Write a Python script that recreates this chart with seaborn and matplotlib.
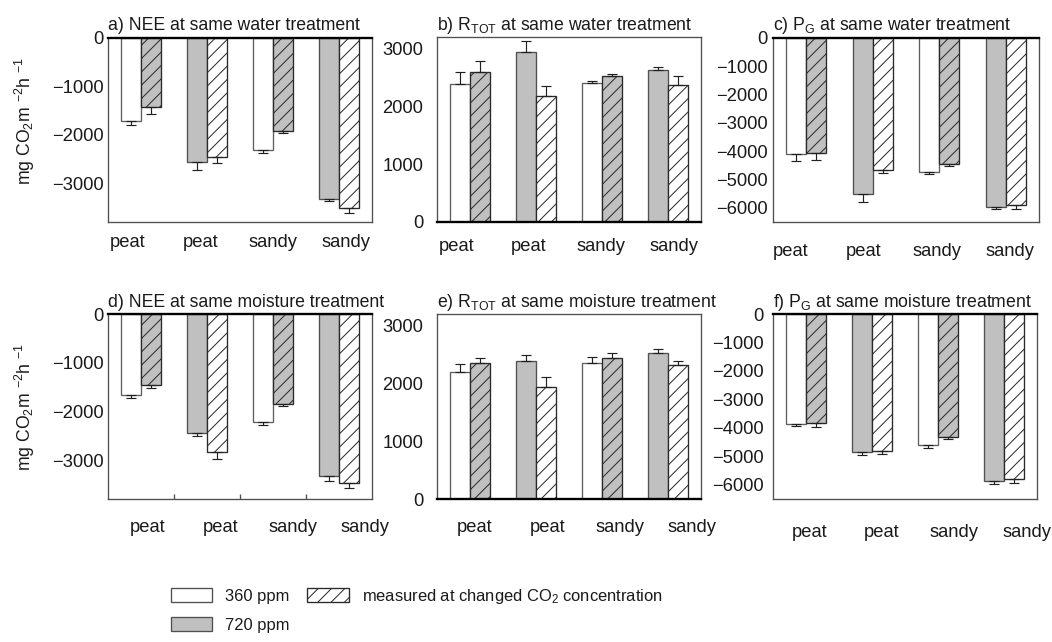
"""Six bar panels: NEE, R_TOT and P_G at the same water / moisture treatment,
peat and sandy soils grown at 360 or 720 ppm, measured at growth and changed CO2."""
import numpy as np
import pandas as pd
import matplotlib
matplotlib.use("Agg")
import matplotlib.pyplot as plt
from matplotlib.patches import Patch
import seaborn as sns

# ---- data ----
soils = ["peat", "peat", "sandy", "sandy"]
grown_at = [360, 720, 360, 720]
measured = ["growth", "changed"]

nee_water = [-1720, -1425, -2565, -2455, -2320, -1920, -3315, -3515]
nee_water_err = [75, 150, 165, 125, 50, 50, 50, 90]
rtot_water = [2380, 2600, 2940, 2185, 2410, 2530, 2635, 2375]
rtot_water_err = [215, 190, 190, 170, 35, 35, 45, 155]
pg_water = [-4115, -4045, -5505, -4660, -4740, -4460, -5955, -5910]
pg_water_err = [240, 280, 295, 105, 50, 60, 70, 115]

nee_moist = [-1655, -1450, -2435, -2830, -2210, -1840, -3330, -3475]
nee_moist_err = [80, 80, 75, 140, 60, 55, 95, 95]
rtot_moist = [2200, 2360, 2385, 1945, 2355, 2445, 2520, 2310]
rtot_moist_err = [130, 80, 100, 170, 105, 75, 70, 85]
pg_moist = [-3850, -3825, -4845, -4800, -4600, -4305, -5855, -5800]
pg_moist_err = [95, 130, 115, 105, 95, 70, 105, 130]

titles = [
    "a) NEE at same water treatment",
    "b) R$_{TOT}$ at same water treatment",
    "c) P$_{G}$ at same water treatment",
    "d) NEE at same moisture treatment",
    "e) R$_{TOT}$ at same moisture treatment",
    "f) P$_{G}$ at same moisture treatment",
]

WHITE = "white"
GREY = "#c0c0c0"
HATCH = "///"
TXT = "#1a1a1a"

sns.set_style("white")
plt.rcParams["font.family"] = ["Liberation Sans", "DejaVu Sans"]
plt.rcParams["mathtext.default"] = "regular"
plt.rcParams["hatch.linewidth"] = 0.6


def make_df(values, errors):
    rows = []
    for i, soil in enumerate(soils):
        for j, m in enumerate(measured):
            rows.append({"group": f"{soil} {grown_at[i]}", "measured": m,
                         "value": values[2 * i + j], "err": errors[2 * i + j]})
    return pd.DataFrame(rows)


def draw_panel(ax, values, errors, title, yticks, ylim, ypad, xpad, xshift):
    df = make_df(values, errors)
    sns.barplot(data=df, x="group", y="value", hue="measured",
                hue_order=measured, width=0.6, ax=ax, legend=False,
                errorbar=None)
    bar_conts = list(ax.containers)
    for j, cont in enumerate(bar_conts):
        for i, bar in enumerate(cont):
            # measured CO2: growth level for the first bar, the other level for the second
            co2 = grown_at[i] if j == 0 else (1080 - grown_at[i])
            face = WHITE if co2 == 360 else GREY
            bar.set_facecolor(face)
            bar.set_linewidth(0.8)
            if j == 1:
                bar.set_edgecolor("#2a2a2a")
                bar.set_hatch(HATCH)
            else:
                bar.set_edgecolor("#606060" if face == WHITE else "#505050")
            v = values[2 * i + j]
            e = errors[2 * i + j]
            xc = bar.get_x() + bar.get_width() / 2
            yerr = [[0], [e]] if v > 0 else [[e], [0]]
            ax.errorbar([xc], [v], yerr=yerr, fmt="none", ecolor="#202020",
                        elinewidth=0.7, capsize=3.2, capthick=0.7, zorder=3)

    ax.set_xlim(-0.5, 3.5)
    ax.set_ylim(*ylim)
    ax.set_yticks(yticks)
    ax.set_xticks(np.arange(4) * 1.1 + xshift)
    ax.set_xticklabels(soils)
    ax.set_xlabel("")
    ax.set_ylabel("")
    ax.tick_params(axis="y", length=0, pad=ypad, labelsize=11, colors=TXT)
    ax.tick_params(axis="x", length=0, pad=xpad, labelsize=11, colors=TXT)
    ax.set_title(title, loc="left", fontsize=10.6, pad=4.5, color=TXT)

    for side in ["left", "right", "top", "bottom"]:
        ax.spines[side].set_visible(True)
        ax.spines[side].set_linewidth(0.8)
        ax.spines[side].set_color("#505050")
    zero_side = "top" if ylim[1] == 0 else "bottom"
    ax.spines[zero_side].set_color("black")
    ax.spines[zero_side].set_linewidth(1.4)


W, H = 1052, 642
fig = plt.figure(figsize=(W / 120, H / 120), dpi=120)


def rect(x0, y0, x1, y1):
    return [x0 / W, 1 - y1 / H, (x1 - x0) / W, (y1 - y0) / H]


neg_nee = ([0, -1000, -2000, -3000], (-3800, 0))
pos_rtot = ([0, 1000, 2000, 3000], (0, 3200))
neg_pg = ([0, -1000, -2000, -3000, -4000, -5000, -6000], (-6500, 0))

panels = [
    (rect(108, 38, 372, 222), nee_water, nee_water_err, neg_nee, 2.4, 7.4, -0.2),
    (rect(437, 37, 701, 222), rtot_water, rtot_water_err, pos_rtot, 8.4, 9.6, -0.21),
    (rect(773, 38, 1039, 222), pg_water, pg_water_err, neg_pg, 3.0, 12.4, -0.23),
    (rect(108, 314, 372, 499), nee_moist, nee_moist_err, neg_nee, 2.4, 12.0, 0.1),
    (rect(437, 314, 701, 499), rtot_moist, rtot_moist_err, pos_rtot, 8.4, 12.0, 0.07),
    (rect(773, 314, 1037, 499), pg_moist, pg_moist_err, neg_pg, 5.4, 14.8, 0.05),
]

axes = []
for k, (r, vals, errs, (yt, yl), ypad, xpad, xshift) in enumerate(panels):
    ax = fig.add_axes(r)
    draw_panel(ax, vals, errs, titles[k], yt, yl, ypad, xpad, xshift)
    axes.append(ax)

ylab = "mg CO$_2$m $^{-2}$h $^{-1}$"
for ax, yc in [(axes[0], 0.55), (axes[3], 0.5)]:
    ax.set_ylabel(ylab, fontsize=10.6, color=TXT)
    ax.yaxis.set_label_coords(-0.27, yc)

# small boundary ticks on panel d
axes[3].set_xticks([0.5, 1.5, 2.5], minor=True)
axes[3].tick_params(axis="x", which="minor", direction="in", length=3,
                    width=0.8, color="#505050", bottom=True)

handles = [
    Patch(facecolor=WHITE, edgecolor="#505050", linewidth=0.8, label="360 ppm"),
    Patch(facecolor=GREY, edgecolor="#505050", linewidth=0.8, label="720 ppm"),
    Patch(facecolor=WHITE, edgecolor="#2a2a2a", linewidth=0.8, hatch=HATCH,
          label="measured at changed CO$_2$ concentration"),
]
fig.legend(handles=handles, ncol=2, loc="upper left",
           bbox_to_anchor=(171 / W, 1 - 587 / H), frameon=False,
           borderpad=0, borderaxespad=0, handlelength=2.5, handleheight=0.9,
           handletextpad=0.8, columnspacing=1.05, labelspacing=0.8,
           fontsize=9.9, labelcolor=TXT)

fig.savefig("out.png", dpi=120, facecolor="white")
